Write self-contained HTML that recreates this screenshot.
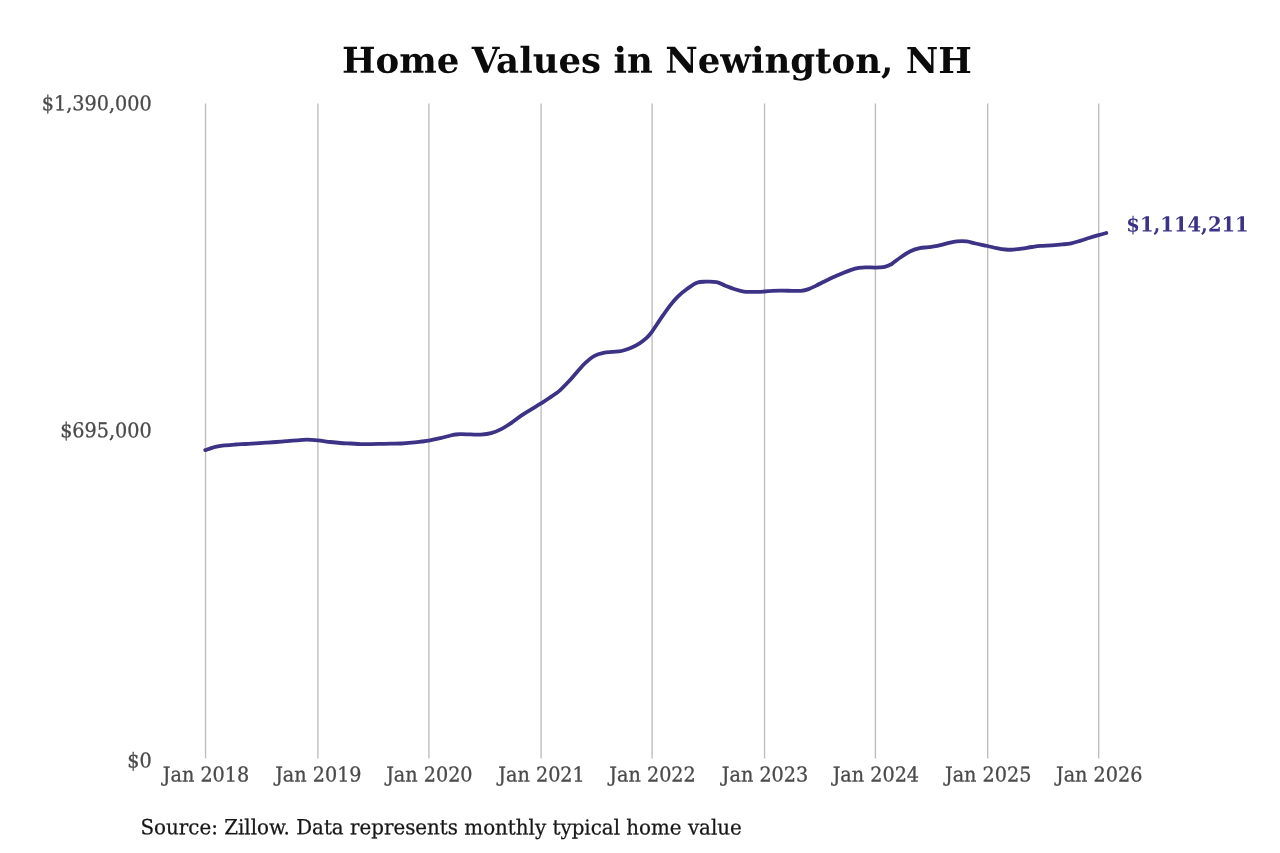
<!DOCTYPE html>
<html lang="en">
<head>
<meta charset="utf-8">
<title>Home Values in Newington, NH</title>
<style>
html,body{margin:0;padding:0;background:#ffffff;}
body{width:1280px;height:853px;overflow:hidden;}
svg{display:block;}
text{font-family:"DejaVu Serif","Liberation Serif",serif;}
.t{font-weight:bold;font-size:35.55px;fill:#0b0b0b;}
.ax{font-size:19.2px;fill:#4a4a4a;stroke:#4a4a4a;stroke-width:0.3px;}
.val{font-weight:bold;font-size:19.56px;fill:#3c3386;}
.src{font-size:19.85px;fill:#161616;stroke:#161616;stroke-width:0.25px;}
</style>
</head>
<body>
<svg width="1280" height="853" viewBox="0 0 1280 853">
<rect x="0" y="0" width="1280" height="853" fill="#ffffff"/>

<g stroke="#bebebe" stroke-width="1.38" fill="none">
<line x1="205.55" y1="103.6" x2="205.55" y2="758.5"/>
<line x1="317.90" y1="103.6" x2="317.90" y2="758.5"/>
<line x1="428.90" y1="103.6" x2="428.90" y2="758.5"/>
<line x1="541.10" y1="103.6" x2="541.10" y2="758.5"/>
<line x1="652.10" y1="103.6" x2="652.10" y2="758.5"/>
<line x1="764.55" y1="103.6" x2="764.55" y2="758.5"/>
<line x1="875.40" y1="103.6" x2="875.40" y2="758.5"/>
<line x1="987.70" y1="103.6" x2="987.70" y2="758.5"/>
<line x1="1098.70" y1="103.6" x2="1098.70" y2="758.5"/>
</g>
<path d="M205.30 450.10 C206.97 449.55 211.93 447.60 215.30 446.80 C218.67 446.00 222.12 445.68 225.50 445.30 C228.88 444.92 232.22 444.72 235.60 444.50 C238.98 444.28 242.42 444.20 245.80 444.00 C249.18 443.80 252.52 443.52 255.90 443.30 C259.28 443.08 262.70 442.92 266.10 442.70 C269.50 442.48 272.92 442.27 276.30 442.00 C279.68 441.73 283.02 441.38 286.40 441.10 C289.78 440.82 293.22 440.53 296.60 440.30 C299.98 440.07 303.22 439.70 306.70 439.70 C310.18 439.70 313.57 439.92 317.50 440.30 C321.43 440.68 326.47 441.55 330.30 442.00 C334.13 442.45 337.12 442.75 340.50 443.00 C343.88 443.25 347.22 443.32 350.60 443.50 C353.98 443.68 357.42 444.00 360.80 444.10 C364.18 444.20 367.52 444.13 370.90 444.10 C374.28 444.07 377.70 443.97 381.10 443.90 C384.50 443.83 387.92 443.77 391.30 443.70 C394.68 443.63 398.02 443.67 401.40 443.50 C404.78 443.33 408.22 443.03 411.60 442.70 C414.98 442.37 418.83 441.85 421.70 441.50 C424.57 441.15 425.70 441.15 428.80 440.60 C431.90 440.05 436.68 439.05 440.30 438.20 C443.92 437.35 447.97 436.12 450.50 435.50 C453.03 434.88 453.82 434.72 455.50 434.50 C457.18 434.28 458.05 434.22 460.60 434.20 C463.15 434.18 467.42 434.33 470.80 434.40 C474.18 434.47 477.52 434.80 480.90 434.60 C484.28 434.40 487.72 434.12 491.10 433.20 C494.48 432.28 497.82 430.83 501.20 429.10 C504.58 427.37 508.00 425.08 511.40 422.80 C514.80 420.52 518.22 417.68 521.60 415.40 C524.98 413.12 528.47 411.10 531.70 409.10 C534.93 407.10 538.07 405.25 541.00 403.40 C543.93 401.55 546.20 400.13 549.30 398.00 C552.40 395.87 556.37 393.35 559.60 390.60 C562.83 387.85 565.68 384.73 568.70 381.50 C571.72 378.27 574.92 374.30 577.70 371.20 C580.48 368.10 582.60 365.47 585.40 362.90 C588.20 360.33 591.48 357.48 594.50 355.80 C597.52 354.12 600.50 353.45 603.50 352.80 C606.50 352.15 609.50 352.20 612.50 351.90 C615.50 351.60 618.48 351.65 621.50 351.00 C624.52 350.35 627.58 349.28 630.60 348.00 C633.62 346.72 637.03 344.90 639.60 343.30 C642.17 341.70 643.95 340.32 646.00 338.40 C648.05 336.48 649.25 335.38 651.90 331.80 C654.55 328.22 658.78 321.40 661.90 316.90 C665.02 312.40 667.87 308.27 670.60 304.80 C673.33 301.33 675.57 298.73 678.30 296.10 C681.03 293.47 683.90 291.22 687.00 289.00 C690.10 286.78 693.80 284.02 696.90 282.80 C700.00 281.58 702.32 281.82 705.60 281.70 C708.88 281.58 713.32 281.43 716.60 282.10 C719.88 282.77 722.38 284.55 725.30 285.70 C728.22 286.85 731.00 288.00 734.10 289.00 C737.20 290.00 740.45 291.23 743.90 291.70 C747.35 292.17 751.37 291.83 754.80 291.80 C758.23 291.77 761.63 291.67 764.50 291.50 C767.37 291.33 769.03 290.93 772.00 290.80 C774.97 290.67 778.93 290.70 782.30 290.70 C785.67 290.70 789.10 290.78 792.20 290.80 C795.30 290.82 798.17 291.08 800.90 290.80 C803.63 290.52 806.05 289.97 808.60 289.10 C811.15 288.23 813.47 286.92 816.20 285.60 C818.93 284.28 822.08 282.63 825.00 281.20 C827.92 279.77 830.78 278.33 833.70 277.00 C836.62 275.67 839.58 274.38 842.50 273.20 C845.42 272.02 848.47 270.77 851.20 269.90 C853.93 269.02 856.52 268.38 858.90 267.95 C861.28 267.52 862.72 267.36 865.50 267.30 C868.28 267.24 872.63 267.63 875.60 267.60 C878.57 267.57 880.98 267.53 883.30 267.10 C885.62 266.67 888.00 265.58 889.50 265.00 C891.00 264.42 890.37 264.93 892.30 263.60 C894.23 262.27 898.00 259.10 901.10 257.00 C904.20 254.90 907.80 252.48 910.90 251.00 C914.00 249.52 916.78 248.73 919.70 248.10 C922.62 247.47 925.48 247.57 928.40 247.20 C931.32 246.83 934.10 246.53 937.20 245.90 C940.30 245.27 943.72 244.15 947.00 243.40 C950.28 242.65 953.62 241.73 956.90 241.40 C960.18 241.07 963.60 241.05 966.70 241.40 C969.80 241.75 972.03 242.73 975.50 243.50 C978.97 244.27 983.98 245.23 987.50 246.00 C991.02 246.77 993.62 247.52 996.60 248.10 C999.58 248.68 1002.62 249.23 1005.40 249.50 C1008.18 249.77 1010.53 249.85 1013.30 249.70 C1016.07 249.55 1018.90 249.05 1022.00 248.60 C1025.10 248.15 1028.80 247.45 1031.90 247.00 C1035.00 246.55 1037.32 246.18 1040.60 245.90 C1043.88 245.62 1047.95 245.55 1051.60 245.30 C1055.25 245.05 1059.23 244.73 1062.50 244.40 C1065.77 244.07 1068.28 243.88 1071.20 243.30 C1074.12 242.72 1076.90 241.83 1080.00 240.90 C1083.10 239.97 1086.70 238.65 1089.80 237.70 C1092.90 236.75 1095.85 235.98 1098.60 235.20 C1101.35 234.42 1105.02 233.37 1106.30 233.00" fill="none" stroke="#3c3386" stroke-width="3.8" stroke-linecap="round" stroke-linejoin="round"/>
<text class="t" transform="translate(656.90 72.80) scale(1 1.000) rotate(0.03)" text-anchor="middle">Home Values in Newington, NH</text>
<text class="ax" transform="translate(151.70 110.40) scale(1 1.066) rotate(0.03)" text-anchor="end">$1,390,000</text>
<text class="ax" transform="translate(151.70 437.40) scale(1 1.066) rotate(0.03)" text-anchor="end">$695,000</text>
<text class="ax" transform="translate(151.70 767.60) scale(1 1.066) rotate(0.03)" text-anchor="end">$0</text>
<text class="ax" transform="translate(206.00 781.40) scale(1 1.066) rotate(0.03)" text-anchor="middle">Jan 2018</text>
<text class="ax" transform="translate(318.35 781.40) scale(1 1.066) rotate(0.03)" text-anchor="middle">Jan 2019</text>
<text class="ax" transform="translate(429.35 781.40) scale(1 1.066) rotate(0.03)" text-anchor="middle">Jan 2020</text>
<text class="ax" transform="translate(541.55 781.40) scale(1 1.066) rotate(0.03)" text-anchor="middle">Jan 2021</text>
<text class="ax" transform="translate(652.55 781.40) scale(1 1.066) rotate(0.03)" text-anchor="middle">Jan 2022</text>
<text class="ax" transform="translate(765.00 781.40) scale(1 1.066) rotate(0.03)" text-anchor="middle">Jan 2023</text>
<text class="ax" transform="translate(875.85 781.40) scale(1 1.066) rotate(0.03)" text-anchor="middle">Jan 2024</text>
<text class="ax" transform="translate(988.15 781.40) scale(1 1.066) rotate(0.03)" text-anchor="middle">Jan 2025</text>
<text class="ax" transform="translate(1099.15 781.40) scale(1 1.066) rotate(0.03)" text-anchor="middle">Jan 2026</text>
<text class="val" transform="translate(1126.30 231.50) scale(1 1.057) rotate(0.03)" text-anchor="start">$1,114,211</text>
<text class="src" transform="translate(140.50 834.20) scale(1 1.050) rotate(0.03)" text-anchor="start">Source: Zillow. Data represents monthly typical home value</text>
</svg>
</body>
</html>
